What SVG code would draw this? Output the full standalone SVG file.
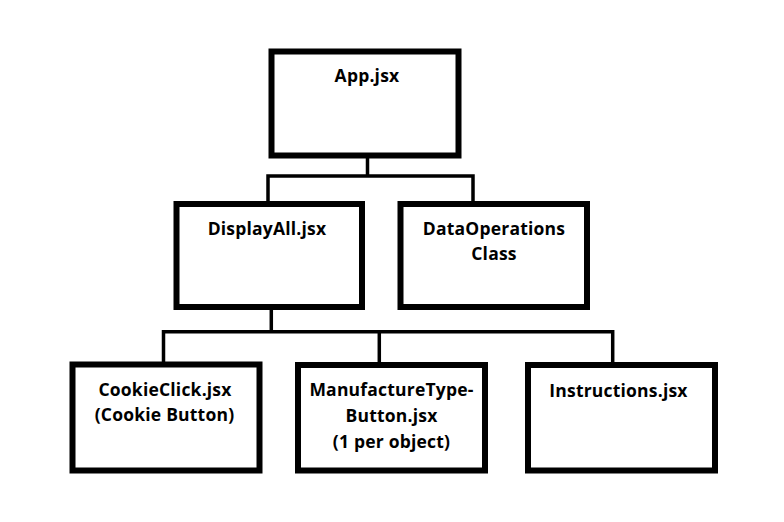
<svg xmlns="http://www.w3.org/2000/svg" width="784" height="522" viewBox="0 0 784 522">
<style>
.box{fill:#fff;stroke:#000;stroke-width:6}
.conn{fill:none;stroke:#000;stroke-width:3.5;stroke-linejoin:miter;stroke-linecap:square}
text{font-family:"Open Sans","DejaVu Sans",sans-serif;font-size:17.5px;font-weight:700;letter-spacing:0.2px;fill:#000;text-anchor:middle}
</style>
<rect width="784" height="522" fill="#fff"/>
<g id="connectors">
<path class="conn" d="M367.5,156 V176 M268,204 V176 H473 V204"/>
<path class="conn" d="M271.3,308 V331.7 M163.5,365 V331.7 H612.7 V365 M379.3,331.7 V365"/>
</g>
<g id="app">
<rect class="box" x="271.5" y="51.5" width="187" height="104"/>
<text x="367" y="82">App.jsx</text>
</g>
<g id="displayall">
<rect class="box" x="176.5" y="204" width="185.5" height="103"/>
<text x="267" y="235">DisplayAll.jsx</text>
</g>
<g id="dataoperations">
<rect class="box" x="400.5" y="204" width="186.5" height="103"/>
<text x="494" y="234.5">DataOperations</text>
<text x="494" y="260">Class</text>
</g>
<g id="cookieclick">
<rect class="box" x="72.5" y="364.5" width="187" height="106"/>
<text x="165" y="395.5">CookieClick.jsx</text>
<text x="164.5" y="420.5">(Cookie Button)</text>
</g>
<g id="manufacturetype">
<rect class="box" x="298" y="365" width="187" height="105.5"/>
<text x="391.5" y="395.5">ManufactureType-</text>
<text x="391.5" y="421.5">Button.jsx</text>
<text x="391.5" y="447.5">(1 per object)</text>
</g>
<g id="instructions">
<rect class="box" x="528" y="365" width="187" height="105.5"/>
<text x="618.5" y="397">Instructions.jsx</text>
</g>
</svg>
